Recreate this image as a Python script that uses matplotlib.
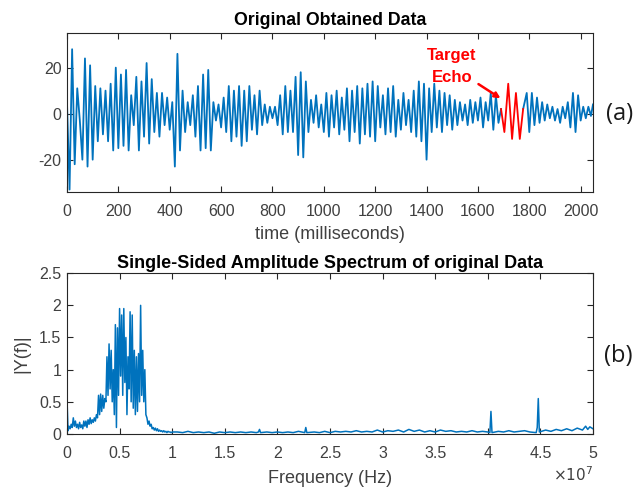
import numpy as np
import matplotlib
matplotlib.use("Agg")
import matplotlib.pyplot as plt
from matplotlib.ticker import FuncFormatter

plt.rcParams['font.family'] = ['Liberation Sans', 'DejaVu Sans']
plt.rcParams['axes.unicode_minus'] = False

# ---------------- data: time signal (extrema sampled every 10 ms) ----------------
sig_before = [5, -33, 28, -22, 11, -3, -20, 24, -23, 21,
              -20, 12, -12, 11, -9, 10, -12, 13, -16, 20,
              -15, 17, -14, 19, -16, 8, -5, 16, -16, 14,
              -10, 22, -13, 15, -8, 9, -10, 9, -5, 7,
              -7, 5, -23, 26, -16, 10, -8, 5, -5, 8,
              -10, 12, -16, 17, -15, 19, -16, 5, -3, 4,
              -6, 7, -8, 12, -12, 10, -10, 12, -14, 10,
              -12, 12, -7, 8, -9, 10, -5, 4, -4, 3,
              -2, 3, -5, 8, -9, 12, -8, 10, -8, 16,
              -18, 18, -19, 14, -8, 6, -4, 8, -6, 4,
              -8, 9, -10, 8, -6, 10, -9, 7, -7, 11,
              -12, 10, -8, 12, -13, 11, -9, 13, -10, 14,
              -12, 12, -6, 8, -9, 11, -8, 12, -10, 6,
              -7, 9, -5, 6, -8, 10, -10, 14, -12, 13,
              -20, 11, -8, 13, -6, 10, -8, 9, -5, 8,
              -7, 6, -5, 5, -3, 4, -5, 6, -4, 5,
              -3, 7, -6, 5, -3, 9, -7, 8, -4, 2]
t_before = np.arange(0, 10 * len(sig_before), 10)

echo_t = [1690, 1703, 1718, 1733, 1748, 1763, 1776]
echo_y = [2, -8, 13, -11, 9, -11, 2]

t_after = [1776, 1790, 1800, 1810, 1820, 1830, 1840, 1850, 1860, 1870,
           1880, 1890, 1900, 1910, 1920, 1930, 1940, 1950, 1960, 1970,
           1980, 1990, 2000, 2010, 2020, 2030, 2040, 2048]
sig_after = [2, 9, -8, 9, -5, 7, -4, 5, -3, 4,
             -2, 3, -3, 2, -4, 3, -2, 5, -6, 9,
             -8, 8, -3, 3, -2, 3, -1, 4]

# ---------------- data: spectrum (frequency in units of 1e7 Hz) ----------------
band_f = [i / 100 for i in range(0, 101)]
band_a = [0.55, 0.05, 0.12, 0.08, 0.15, 0.10, 0.25, 0.12, 0.20, 0.10,
          0.15, 0.08, 0.18, 0.10, 0.14, 0.08, 0.20, 0.12, 0.20, 0.10,
          0.22, 0.15, 0.25, 0.16, 0.22, 0.18, 0.25, 0.20, 0.30, 0.25,
          0.60, 0.30, 0.62, 0.35, 0.60, 0.40, 0.55, 0.50, 1.20, 0.60,
          1.40, 0.70, 1.30, 0.50, 1.00, 0.30, 1.70, 0.10, 1.65, 0.60,
          1.95, 0.90, 1.85, 0.60, 1.95, 0.80, 1.50, 0.30, 1.20, 0.70,
          1.90, 0.50, 1.85, 0.40, 1.30, 0.30, 1.20, 0.35, 1.25, 0.50,
          2.00, 0.60, 1.30, 0.50, 1.00, 0.30, 0.25, 0.15, 0.20, 0.12,
          0.15, 0.08, 0.10, 0.06, 0.09, 0.05, 0.08, 0.04, 0.06, 0.04,
          0.05, 0.03, 0.05, 0.03, 0.04, 0.02, 0.04, 0.03, 0.03, 0.02,
          0.03]
tail_f = [1.05, 1.1, 1.15, 1.2, 1.25, 1.3, 1.35, 1.4, 1.45, 1.5,
          1.55, 1.6, 1.65, 1.7, 1.75, 1.8, 1.82, 1.83, 1.84, 1.9,
          1.95, 2.0, 2.05, 2.1, 2.15, 2.2, 2.26, 2.27, 2.28, 2.35,
          2.4, 2.45, 2.5, 2.55, 2.6, 2.65, 2.7, 2.75, 2.8, 2.85,
          2.9, 2.95, 3.0, 3.05, 3.1, 3.15, 3.2, 3.25, 3.3, 3.35,
          3.4, 3.45, 3.5, 3.55, 3.6, 3.65, 3.7, 3.75, 3.8, 3.85,
          3.9, 3.95, 4.0, 4.02, 4.03, 4.04, 4.1, 4.15, 4.2, 4.25,
          4.3, 4.35, 4.4, 4.46, 4.47, 4.48, 4.49, 4.55, 4.6, 4.65,
          4.7, 4.75, 4.8, 4.85, 4.9, 4.93, 4.95, 4.97, 5.0]
tail_a = [0.03, 0.02, 0.04, 0.02, 0.03, 0.02, 0.03, 0.01, 0.03, 0.02,
          0.03, 0.02, 0.03, 0.02, 0.03, 0.02, 0.03, 0.07, 0.02, 0.03,
          0.02, 0.03, 0.02, 0.03, 0.02, 0.04, 0.02, 0.10, 0.02, 0.03,
          0.02, 0.04, 0.02, 0.04, 0.03, 0.04, 0.03, 0.05, 0.03, 0.04,
          0.03, 0.06, 0.03, 0.05, 0.04, 0.06, 0.03, 0.07, 0.04, 0.06,
          0.03, 0.05, 0.03, 0.06, 0.04, 0.05, 0.03, 0.04, 0.03, 0.05,
          0.03, 0.04, 0.03, 0.02, 0.35, 0.02, 0.04, 0.03, 0.05, 0.03,
          0.04, 0.05, 0.03, 0.02, 0.10, 0.55, 0.03, 0.06, 0.04, 0.07,
          0.05, 0.08, 0.05, 0.09, 0.06, 0.12, 0.07, 0.11, 0.08]

# ---------------- styling ----------------
BLUE = '#0072BD'
RED = '#FF0000'
AXC = '#262626'
TICKC = '#404040'

fig = plt.figure(figsize=(6.41, 4.87), dpi=100)
ax1 = fig.add_axes([0.1045, 0.606, 0.8206, 0.326])
ax2 = fig.add_axes([0.1045, 0.109, 0.8206, 0.330])

for ax in (ax1, ax2):
    for s in ax.spines.values():
        s.set_color(AXC)
        s.set_linewidth(0.8)
    ax.tick_params(direction='in', top=True, right=True, length=4,
                   width=0.8, color=AXC, labelsize=11.5, labelcolor=TICKC)
    ax.tick_params(axis='x', pad=9)
    ax.tick_params(axis='y', pad=4)

# top plot
ax1.plot(t_before, sig_before, color=BLUE, lw=1.3)
ax1.plot(t_after, sig_after, color=BLUE, lw=1.3)
ax1.plot(echo_t, echo_y, color=RED, lw=1.3)
ax1.set_xlim(0, 2048)
ax1.set_ylim(-34, 35)
ax1.set_xticks(range(0, 2001, 200))
ax1.set_yticks([-20, 0, 20])
ax1.yaxis.set_major_formatter(FuncFormatter(lambda v, p: f'{v:g}'))
ax1.set_title('Original Obtained Data', fontsize=12.8, fontweight='bold', pad=6)
ax1.set_xlabel('time (milliseconds)', fontsize=13, color=TICKC, labelpad=5)
ax1.text(1499, 25.2, 'Target', color=RED, fontsize=12, fontweight='bold', ha='center', va='center')
ax1.text(1499, 15.6, 'Echo', color=RED, fontsize=12, fontweight='bold', ha='center', va='center')
ax1.annotate('', xy=(1697, 6.0), xytext=(1593, 13.5),
             arrowprops=dict(arrowstyle='-|>', color=RED, lw=1.8, mutation_scale=8))

# bottom plot
freq_hz = np.array(band_f + tail_f) * 1e7
amp = np.array(band_a + tail_a)
ax2.plot(freq_hz, amp, color=BLUE, lw=1.1)
ax2.set_xlim(0, 5e7)
ax2.set_ylim(0, 2.5)
ax2.set_xticks(np.arange(0, 5.01e7, 0.5e7))
ax2.set_yticks([0, 0.5, 1, 1.5, 2, 2.5])
ax2.xaxis.set_major_formatter(FuncFormatter(lambda v, p: f'{v / 1e7:g}'))
ax2.yaxis.set_major_formatter(FuncFormatter(lambda v, p: f'{v:g}'))
ax2.set_title('Single-Sided Amplitude Spectrum of original Data', fontsize=13,
              fontweight='bold', pad=4)
ax2.set_xlabel('Frequency (Hz)', fontsize=13, color=TICKC, labelpad=6)
ax2.set_ylabel('|Y(f)|', fontsize=13, color=TICKC, labelpad=6)
ax2.text(1.0, -0.255, r'$\times 10^{7}$', transform=ax2.transAxes, ha='right',
         va='center', fontsize=11, color=TICKC)

fig.text(0.987, 1 - 114 / 487, '(a)', fontsize=17, family=['Open Sans', 'DejaVu Sans'],
         ha='right', va='center', color='#1a1a1a')
fig.text(0.987, 1 - 356 / 487, '(b)', fontsize=17, family=['Open Sans', 'DejaVu Sans'],
         ha='right', va='center', color='#1a1a1a')

fig.savefig('out.png', dpi=100)
